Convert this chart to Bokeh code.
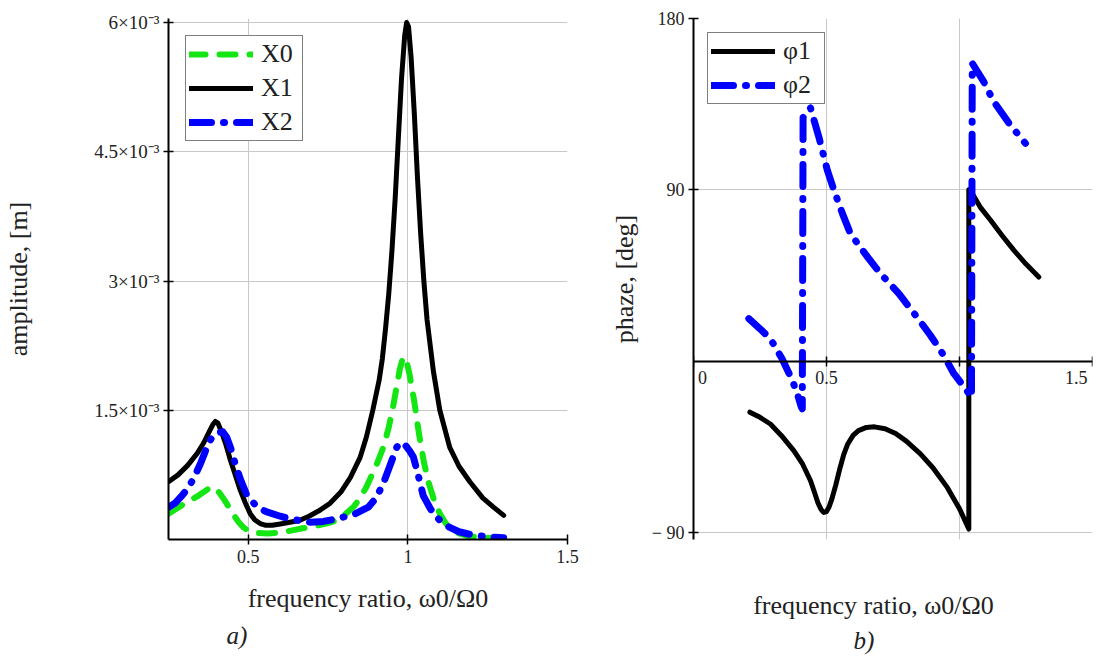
from bokeh.plotting import figure
from bokeh.models import Range1d, FixedTicker, LinearAxis, Legend, LegendItem, Title
from bokeh.layouts import row
from bokeh.embed import file_html
from bokeh.resources import INLINE

# ---------------- data: panel a) amplitude [m] vs frequency ratio ----------------
ratio_x1 = [0.25, 0.28, 0.31, 0.34, 0.36, 0.38, 0.39, 0.397, 0.405, 0.415, 0.43, 0.444, 0.46, 0.475,
            0.49, 0.506, 0.52, 0.537, 0.555, 0.575, 0.60, 0.63, 0.66, 0.69, 0.72, 0.756, 0.79, 0.82,
            0.85, 0.87, 0.89, 0.91, 0.92, 0.93, 0.94, 0.95, 0.96, 0.97, 0.98, 0.99, 0.996, 1.002,
            1.01, 1.02, 1.03, 1.04, 1.05, 1.06, 1.08, 1.10, 1.131, 1.16, 1.194, 1.235, 1.27, 1.30]
amp_x1 = [0.67e-3, 0.75e-3, 0.86e-3, 1.00e-3, 1.12e-3, 1.27e-3, 1.34e-3, 1.37e-3, 1.35e-3, 1.26e-3,
          1.10e-3, 0.92e-3, 0.74e-3, 0.57e-3, 0.43e-3, 0.30e-3, 0.23e-3, 0.185e-3, 0.165e-3, 0.165e-3,
          0.18e-3, 0.20e-3, 0.22e-3, 0.27e-3, 0.33e-3, 0.42e-3, 0.55e-3, 0.72e-3, 0.95e-3, 1.19e-3,
          1.50e-3, 1.85e-3, 2.1e-3, 2.45e-3, 2.85e-3, 3.35e-3, 3.95e-3, 4.65e-3, 5.35e-3, 5.85e-3,
          6.0e-3, 5.95e-3, 5.6e-3, 4.95e-3, 4.2e-3, 3.55e-3, 3.0e-3, 2.55e-3, 1.95e-3, 1.5e-3,
          1.07e-3, 0.85e-3, 0.67e-3, 0.48e-3, 0.37e-3, 0.28e-3]

ratio_x0 = [0.25, 0.28, 0.31, 0.34, 0.36, 0.375, 0.386, 0.395, 0.41, 0.425, 0.44, 0.455, 0.47, 0.485,
            0.50, 0.53, 0.56, 0.60, 0.63, 0.67, 0.715, 0.75, 0.777, 0.80, 0.83, 0.85, 0.87, 0.90,
            0.923, 0.94, 0.954, 0.965, 0.975, 0.985, 0.995, 1.005, 1.02, 1.035, 1.05, 1.065, 1.08,
            1.10, 1.12, 1.14, 1.16, 1.19, 1.25, 1.30]
amp_x0 = [0.30e-3, 0.37e-3, 0.44e-3, 0.50e-3, 0.55e-3, 0.59e-3, 0.61e-3, 0.60e-3, 0.54e-3, 0.46e-3,
          0.37e-3, 0.28e-3, 0.20e-3, 0.14e-3, 0.10e-3, 0.075e-3, 0.07e-3, 0.08e-3, 0.10e-3, 0.13e-3,
          0.16e-3, 0.19e-3, 0.22e-3, 0.28e-3, 0.38e-3, 0.48e-3, 0.61e-3, 0.85e-3, 1.07e-3, 1.30e-3,
          1.55e-3, 1.78e-3, 1.98e-3, 2.12e-3, 2.08e-3, 1.92e-3, 1.60e-3, 1.22e-3, 0.90e-3, 0.66e-3,
          0.48e-3, 0.30e-3, 0.18e-3, 0.11e-3, 0.07e-3, 0.035e-3, 0.02e-3, 0.01e-3]

ratio_x2 = [0.25, 0.27, 0.29, 0.31, 0.329, 0.35, 0.365, 0.376, 0.39, 0.405, 0.42, 0.432, 0.445, 0.459,
            0.475, 0.496, 0.52, 0.54, 0.558, 0.60, 0.631, 0.66, 0.694, 0.735, 0.777, 0.83, 0.876,
            0.90, 0.923, 0.94, 0.955, 0.965, 0.975, 0.985, 0.995, 1.005, 1.017, 1.03, 1.048, 1.07,
            1.09, 1.11, 1.131, 1.16, 1.194, 1.25, 1.30]
amp_x2 = [0.375e-3, 0.42e-3, 0.50e-3, 0.59e-3, 0.71e-3, 0.88e-3, 1.02e-3, 1.13e-3, 1.20e-3, 1.24e-3,
          1.25e-3, 1.19e-3, 1.06e-3, 0.88e-3, 0.70e-3, 0.51e-3, 0.41e-3, 0.35e-3, 0.32e-3, 0.27e-3,
          0.24e-3, 0.22e-3, 0.20e-3, 0.21e-3, 0.24e-3, 0.29e-3, 0.375e-3, 0.48e-3, 0.65e-3, 0.82e-3,
          0.97e-3, 1.07e-3, 1.12e-3, 1.12e-3, 1.08e-3, 1.03e-3, 0.96e-3, 0.78e-3, 0.51e-3, 0.36e-3,
          0.26e-3, 0.19e-3, 0.14e-3, 0.09e-3, 0.06e-3, 0.03e-3, 0.02e-3]

x_ticks_a = [0.5, 1.0, 1.5]
x_labels_a = ["0.5", "1", "1.5"]
y_ticks_a = [0.0015, 0.003, 0.0045, 0.006]
y_labels_a = ["1.5×10⁻³", "3×10⁻³", "4.5×10⁻³", "6×10⁻³"]

# ---------------- data: panel b) phase [deg] vs frequency ratio ----------------
ratio_phi1 = [0.212, 0.25, 0.289, 0.33, 0.377, 0.41, 0.44, 0.455, 0.468, 0.48, 0.49, 0.50, 0.51, 0.52,
              0.535, 0.55, 0.565, 0.58, 0.60, 0.62, 0.65, 0.68, 0.72, 0.76, 0.80, 0.853, 0.90, 0.954,
              1.00, 1.035, 1.035, 1.048, 1.08, 1.117, 1.16, 1.204, 1.25, 1.298]
phi1 = [-26.8, -29.5, -33, -39, -47, -54, -62.8, -69, -74.5, -78, -79.5, -79, -76.5, -72.5,
        -65, -56.5, -49, -43.5, -39, -36.5, -34.8, -34.5, -35.5, -38, -42, -48.7, -56, -66.3,
        -77.5, -88.2, 90, 88.1, 80.5, 74, 66, 58.3, 51, 44.2]

ratio_phi2 = [0.208, 0.25, 0.289, 0.333, 0.371, 0.39, 0.405, 0.409, 0.412, 0.44, 0.471, 0.503, 0.528,
              0.56, 0.59, 0.65, 0.703, 0.772, 0.841, 0.891, 0.941, 0.979, 1.02, 1.045, 1.048, 1.091,
              1.129, 1.186, 1.248]
phi2 = [22.3, 17, 11.8, 1.3, -10, -17, -24, -25, 128, 133, 117.9, 100.4, 89.8,
        77.5, 67, 55.5, 46, 35.5, 23, 13.5, 3, -6.6, -14, -19, 156.5, 146.8,
        136.3, 125, 114.4]

x_ticks_b = [0.0, 0.5, 1.0, 1.5]
x_labels_b = ["\u2002\u20020", "0.5", "", "1.5\u2002\u2002\u2002"]
y_ticks_b = [-90, 90, 180]
y_labels_b = ["− 90", "90", "180"]

FONT = "Liberation Serif"
GREEN = "#14e614"
BLUE = "#0000ff"
GRID = "#c8c8c8"
TXT = "#222222"

# Both frames share the same vertical extent (plots in a row get aligned);
# the small differences of the two panels are absorbed by the ranges.
FRAME_TOP, FRAME_H, FIG_H = 18, 521, 656
AMP_TOP = 0.006 * FRAME_H / 517.0           # 6e-3 sits 4 px below the frame top
PH_BOTTOM = -90 - 7 * 270.0 / 514.0         # -90 sits 7 px above the frame bottom


def style_axis(ax):
    ax.axis_line_color = "black"
    ax.axis_line_width = 2
    ax.major_tick_line_color = "black"
    ax.major_tick_line_width = 1.5
    ax.major_tick_in = 5
    ax.major_tick_out = 5
    ax.minor_tick_line_color = None
    ax.major_label_text_font = FONT
    ax.major_label_text_font_size = "18px"
    ax.major_label_text_color = TXT
    ax.axis_label_text_font = FONT
    ax.axis_label_text_font_size = "26px"
    ax.axis_label_text_font_style = "normal"
    ax.axis_label_text_color = TXT


def style_legend(lg):
    lg.border_line_color = "black"
    lg.border_line_width = 1.5
    lg.background_fill_color = "white"
    lg.background_fill_alpha = 1.0
    lg.label_text_font = FONT
    lg.label_text_font_size = "26px"
    lg.label_text_color = TXT
    lg.glyph_width = 64
    lg.glyph_height = 30
    lg.label_height = 30
    lg.label_width = 38
    lg.label_standoff = 8
    lg.spacing = 4
    lg.padding = 3
    lg.location = "top_left"


def caption(text, offset, standoff):
    return Title(text=text, align="left", offset=offset, standoff=standoff, text_font=FONT,
                 text_font_size="25px", text_font_style="italic", text_color=TXT)


# ---------------- panel a ----------------
p1 = figure(width=605, height=FIG_H, x_range=Range1d(0.25, 1.5), y_range=Range1d(0, AMP_TOP),
            output_backend="svg", toolbar_location=None, title=None,
            min_border_left=168, min_border_right=38, min_border_top=FRAME_TOP,
            min_border_bottom=FIG_H - FRAME_TOP - FRAME_H)
p1.outline_line_color = None
p1.background_fill_color = "white"
p1.xaxis.ticker = FixedTicker(ticks=x_ticks_a)
p1.yaxis.ticker = FixedTicker(ticks=y_ticks_a)
p1.xaxis.major_label_overrides = dict(zip(x_ticks_a, x_labels_a))
p1.yaxis.major_label_overrides = dict(zip(y_ticks_a, y_labels_a))
p1.xgrid.ticker = FixedTicker(ticks=x_ticks_a)
p1.ygrid.ticker = FixedTicker(ticks=y_ticks_a)
for g in p1.grid:
    g.grid_line_color = GRID
    g.grid_line_width = 1
for ax in p1.axis:
    style_axis(ax)
p1.yaxis.major_label_text_font_size = "19px"
p1.yaxis.axis_label = "amplitude, [m]"
p1.yaxis.axis_label_standoff = 58
p1.yaxis.major_label_standoff = 4
p1.xaxis.axis_label = "frequency ratio, ω0/Ω0"
p1.xaxis.axis_label_standoff = 18
p1.xaxis.major_label_standoff = 5

r_x1 = p1.line(ratio_x1, amp_x1, line_color="black", line_width=5, line_join="round", line_cap="round")
r_x0 = p1.line(ratio_x0, amp_x0, line_color=GREEN, line_width=6, line_dash="16 14",
               line_cap="round", line_join="round")
r_x2 = p1.line(ratio_x2, amp_x2, line_color=BLUE, line_width=7, line_dash="22 12 1 12",
               line_cap="round", line_join="round")

leg1 = Legend(items=[LegendItem(label="X0", renderers=[r_x0]),
                     LegendItem(label="X1", renderers=[r_x1]),
                     LegendItem(label="X2", renderers=[r_x2])])
style_legend(leg1)
leg1.margin = 17
p1.add_layout(leg1)

p1.add_layout(caption("a)", 58, 8), "below")

# ---------------- panel b ----------------
p2 = figure(width=509, height=FIG_H, x_range=Range1d(0, 1.5), y_range=Range1d(PH_BOTTOM, 180),
            output_backend="svg", toolbar_location=None, title=None,
            min_border_left=88, min_border_right=22, min_border_top=FRAME_TOP,
            min_border_bottom=FIG_H - FRAME_TOP - FRAME_H)
p2.outline_line_color = None
p2.background_fill_color = "white"

# the regular bottom axis only carries the axis title; the ticks sit on the y = 0 line
p2.xaxis.ticker = FixedTicker(ticks=[])
p2.xaxis.axis_line_color = None
p2.xaxis.major_tick_line_color = None
p2.xaxis.minor_tick_line_color = None
p2.xaxis.major_tick_out = 0
p2.xaxis.major_tick_in = 0
p2.xaxis.major_label_standoff = 0
p2.xaxis.axis_label = "frequency ratio, ω0/Ω0\u2002\u2002\u2002"
p2.xaxis.axis_label_text_font = FONT
p2.xaxis.axis_label_text_font_size = "26px"
p2.xaxis.axis_label_text_font_style = "normal"
p2.xaxis.axis_label_text_color = TXT
p2.xaxis.axis_label_standoff = 51

xaxis_b = LinearAxis(fixed_location=0, ticker=FixedTicker(ticks=x_ticks_b),
                     major_label_overrides=dict(zip(x_ticks_b, x_labels_b)))
style_axis(xaxis_b)
xaxis_b.major_label_standoff = 2
p2.add_layout(xaxis_b, "below")

p2.yaxis.ticker = FixedTicker(ticks=y_ticks_b)
p2.yaxis.major_label_overrides = dict(zip(y_ticks_b, y_labels_b))
p2.xgrid.ticker = FixedTicker(ticks=[0.5, 1.0, 1.5])
p2.ygrid.ticker = FixedTicker(ticks=y_ticks_b)
for g in p2.grid:
    g.grid_line_color = GRID
    g.grid_line_width = 1
for ax in p2.yaxis:
    style_axis(ax)
p2.yaxis.axis_label = "phaze, [deg]"
p2.yaxis.axis_label_standoff = 10
p2.yaxis.major_label_standoff = 4

r_p1 = p2.line(ratio_phi1, phi1, line_color="black", line_width=5, line_join="round", line_cap="round")
r_p2 = p2.line(ratio_phi2, phi2, line_color=BLUE, line_width=7, line_dash="22 12 1 12",
               line_cap="round", line_join="round")

leg2 = Legend(items=[LegendItem(label="φ1", renderers=[r_p1]),
                     LegendItem(label="φ2", renderers=[r_p2])])
style_legend(leg2)
leg2.margin = 14
p2.add_layout(leg2)

p2.add_layout(caption("b)", 160, 5), "below")

layout = row(p1, p2)
open("out.html", "w").write(file_html(layout, INLINE))
